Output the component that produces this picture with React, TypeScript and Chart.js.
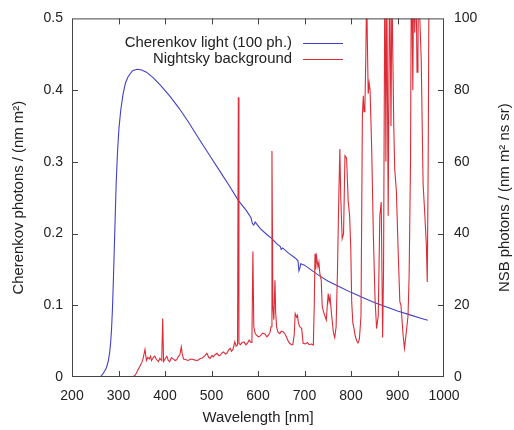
import { useEffect, useRef } from "react";
import { Chart, registerables } from "chart.js";

Chart.register(...registerables);

// ---- data ----
const cherenkovWavelengths = [
  200, 255, 262, 266, 270, 274, 278, 281, 283, 285,
  287, 289, 291, 293, 295, 298, 301, 305, 310, 315, 320,
  330, 340, 350, 360, 375, 390, 410, 430, 450, 475,
  500, 520, 540, 558, 575, 585, 588, 591, 594, 605,
  620, 630, 640, 648, 650, 653, 665, 680, 686, 688,
  690, 692, 700, 715, 730, 750, 775, 800, 825, 850,
  875, 900, 925, 950, 965,
];
const cherenkovPhotons = [
  0, 0, 0.001, 0.004, 0.008, 0.013, 0.022, 0.034, 0.047, 0.066,
  0.095, 0.135, 0.18, 0.225, 0.27, 0.315, 0.347, 0.373, 0.395, 0.41, 0.418,
  0.427, 0.429, 0.428, 0.425, 0.417, 0.407, 0.392, 0.375, 0.356, 0.33,
  0.305, 0.285, 0.265, 0.246, 0.232, 0.222, 0.214, 0.212, 0.216, 0.207,
  0.198, 0.193, 0.186, 0.182, 0.178, 0.18, 0.173, 0.166, 0.162, 0.148,
  0.152, 0.158, 0.156, 0.149, 0.142, 0.134, 0.126, 0.118, 0.111, 0.104,
  0.098, 0.092, 0.087, 0.082, 0.079,
];

const nsbWavelengths = [
  330, 336, 342, 346, 350, 353, 357, 360, 363, 366,
  369, 371, 375, 378, 382, 386, 389, 393, 395, 397,
  400, 404, 407, 410, 414, 418, 422, 425, 429, 432,
  435, 437, 440, 445, 450, 455, 460, 465, 470, 475,
  480, 485, 490, 494, 497, 501, 504, 508, 512, 516,
  519, 523, 526, 530, 533, 537, 540, 543, 546, 550,
  553, 556, 557.7, 559, 562, 566, 570, 574, 578, 581,
  585, 587, 589, 591, 594, 598, 602, 606, 610, 615,
  619, 622, 626, 628, 630, 632, 634, 636.5, 638, 640,
  643, 647, 650, 654, 658, 661, 665, 668, 672, 675,
  678, 680, 683, 685, 687, 690, 694, 697, 702, 706,
  710, 715, 719, 721, 722.6, 724, 726, 729, 731, 733,
  736, 738, 740, 744, 747, 749, 751, 753, 755, 758,
  762, 765, 768, 771, 773, 776, 778, 781, 784, 787,
  790.5, 794, 797, 799.5, 801.5, 804, 806.5, 809, 812, 815,
  818, 821.5, 824.5, 826.5, 828, 830, 832, 833.7, 835, 837,
  839, 841, 844.5, 848, 851.6, 855, 858.6, 862, 865, 868,
  870, 873, 875, 877, 880, 883, 886, 888, 890, 892,
  894, 897.5, 901, 905, 907.5, 912, 915, 919, 922.6, 925,
  928, 930, 933, 935, 937, 940, 942, 944, 946, 948,
  951, 955, 958, 962, 964, 966, 968,
];
const nsbPhotons = [
  0, 0.5, 2, 3, 4, 5.2, 7.7, 4.6, 5.5, 5.0,
  5.8, 4.6, 5.5, 5.8, 4.8, 4.3, 5.2, 4.6, 16.3, 4.3,
  5, 5.8, 4.6, 4.3, 5.4, 5.0, 4.6, 4.8, 5.8, 6.2,
  8.4, 6.5, 5.0, 4.8, 4.6, 5.0, 4.9, 4.7, 4.6, 5.1,
  5.3, 5.8, 6.6, 5.5, 5.2, 6.0, 5.6, 6.3, 6.6, 5.9,
  6.1, 6.8, 7.0, 6.4, 6.6, 7.6, 8.0, 7.2, 7.6, 9.8,
  8.6, 9.0, 78, 9.4, 9.0, 9.6, 9.8, 9.0, 9.6, 10.3,
  9.6, 11, 35, 14, 12.1, 11.5, 11.2, 11.6, 12.2, 12,
  11.2, 11.6, 12.5, 14, 63, 20, 16, 27, 18, 14,
  12.5, 12.1, 12.8, 12.6, 12, 11.2, 10, 9.4, 9.0, 9,
  12, 17.7, 16.7, 17.2, 15, 14, 13.5, 9.4, 9.2, 9.6,
  9.0, 9.2, 8.9, 20, 34.4, 30, 33.5, 30.7, 32, 28.8,
  27, 20, 18.6, 17, 15.9, 20, 23.3, 21, 22.4, 17.7,
  12.5, 11, 14, 30, 45, 63.6, 50, 38.6, 40, 61.7,
  61, 49, 45, 36, 21, 15, 13.5, 11.5, 10.2, 9.5,
  10.5, 17, 73, 78.4, 74, 76, 90, 110, 95, 79,
  82, 80, 63.6, 40, 22, 13.5, 17, 45, 48.8, 11,
  30, 120, 60, 110, 45, 115, 70, 110, 89, 70,
  58, 52, 37, 21, 20, 11.7, 8, 12.6, 17, 28,
  60, 120, 80, 120, 96, 110, 85, 91, 120, 100,
  88.6, 54, 47, 37, 26.5, 60, 120,
];

const xTickLabels = [200, 300, 400, 500, 600, 700, 800, 900, 1000];
const leftTickLabels = [0, 0.1, 0.2, 0.3, 0.4, 0.5];
const rightTickLabels = [0, 20, 40, 60, 80, 100];

const seriesNames = ["Cherenkov light (100 ph.)", "Nightsky background"];
const xTitle = "Wavelength [nm]";
const leftTitle = "Cherenkov photons / (nm m\u00B2)";
const rightTitle = "NSB photons / (nm m\u00B2 ns sr)";

// ---- styles ----
const FONT = "'Liberation Sans', Arial, sans-serif";
const TEXT = "#222";
const AXIS = "#444";
const BLUE = "#4040c8";
const RED = "#dc2c38";

const decorPlugin = {
  id: "decor",
  afterDatasetsDraw(chart: any) {
    const { ctx, chartArea: a, scales } = chart;
    const x = scales.x, yl = scales.y, yr = scales.y2;
    ctx.save();
    ctx.strokeStyle = AXIS;
    ctx.lineWidth = 1;
    ctx.strokeRect(a.left + 0.5, a.top + 0.5, a.right - a.left - 1, a.bottom - a.top - 1);
    const t = 6;
    ctx.beginPath();
    xTickLabels.slice(1, -1).forEach((v) => {
      const p = Math.round(x.getPixelForValue(v)) + 0.5;
      ctx.moveTo(p, a.bottom); ctx.lineTo(p, a.bottom - t);
      ctx.moveTo(p, a.top); ctx.lineTo(p, a.top + t);
    });
    leftTickLabels.slice(1, -1).forEach((v) => {
      const p = Math.round(yl.getPixelForValue(v)) + 0.5;
      ctx.moveTo(a.left, p); ctx.lineTo(a.left + t, p);
    });
    rightTickLabels.slice(1, -1).forEach((v) => {
      const p = Math.round(yr.getPixelForValue(v)) + 0.5;
      ctx.moveTo(a.right, p); ctx.lineTo(a.right - t, p);
    });
    ctx.stroke();
    ctx.restore();
  },
  afterDraw(chart: any) {
    const { ctx, chartArea: a } = chart;
    ctx.save();
    ctx.fillStyle = TEXT;
    ctx.font = `14.9px ${FONT}`;
    ctx.textAlign = "center";
    ctx.textBaseline = "middle";
    ctx.fillText(xTitle, (a.left + a.right) / 2, 418);
    const cy = (a.top + a.bottom) / 2;
    ctx.save();
    ctx.translate(19, cy);
    ctx.rotate(-Math.PI / 2);
    ctx.fillText(leftTitle, 0, 0);
    ctx.restore();
    ctx.save();
    ctx.translate(505, cy);
    ctx.rotate(-Math.PI / 2);
    ctx.fillText(rightTitle, 0, 0);
    ctx.restore();
    // legend
    const rows = [43, 58.5];
    ctx.textAlign = "right";
    chart.data.datasets.forEach((ds: any, i: number) => {
      ctx.fillStyle = TEXT;
      ctx.fillText(ds.label, 292, rows[i]);
      ctx.strokeStyle = ds.borderColor;
      ctx.lineWidth = 1;
      ctx.beginPath();
      ctx.moveTo(303, Math.round(rows[i]) + 0.5);
      ctx.lineTo(343, Math.round(rows[i]) + 0.5);
      ctx.stroke();
    });
    ctx.restore();
  },
};

export default function App() {
  const ref = useRef<HTMLCanvasElement | null>(null);
  useEffect(() => {
    if (!ref.current) return;
    const tickFont = { family: FONT, size: 14 };
    const chart = new Chart(ref.current, {
      type: "line",
      data: {
        datasets: [
          {
            label: seriesNames[0],
            data: cherenkovWavelengths.map((w, i) => ({ x: w, y: cherenkovPhotons[i] })),
            borderColor: BLUE,
            borderWidth: 1.1,
            pointRadius: 0,
            yAxisID: "y",
            order: 1,
          },
          {
            label: seriesNames[1],
            data: nsbWavelengths.map((w, i) => ({ x: w, y: nsbPhotons[i] })),
            borderColor: RED,
            borderWidth: 1.1,
            pointRadius: 0,
            yAxisID: "y2",
            order: 0,
          },
        ],
      },
      options: {
        animation: false,
        responsive: false,
        devicePixelRatio: 1,
        layout: { padding: { top: 17, left: 0, right: 0, bottom: 0 } },
        plugins: { legend: { display: false }, tooltip: { enabled: false } },
        scales: {
          x: {
            type: "linear",
            position: "bottom",
            min: 200,
            max: 1000,
            grid: { display: false, drawTicks: false },
            border: { display: false },
            afterBuildTicks: (s: any) => { s.ticks = xTickLabels.map((v) => ({ value: v })); },
            afterFit: (s: any) => { s.height = 53; },
            ticks: { font: tickFont, color: TEXT, padding: 11, maxRotation: 0, autoSkip: false,
              callback: (v: any) => String(v) },
          },
          y: {
            type: "linear",
            position: "left",
            min: 0,
            max: 0.5,
            grid: { display: false, drawTicks: false },
            border: { display: false },
            afterBuildTicks: (s: any) => { s.ticks = leftTickLabels.map((v) => ({ value: v })); },
            afterFit: (s: any) => { s.width = 72; },
            ticks: { font: tickFont, color: TEXT, padding: 9, autoSkip: false,
              callback: (v: any) => String(v) },
          },
          y2: {
            type: "linear",
            position: "right",
            min: 0,
            max: 100,
            grid: { display: false, drawTicks: false },
            border: { display: false },
            afterBuildTicks: (s: any) => { s.ticks = rightTickLabels.map((v) => ({ value: v })); },
            afterFit: (s: any) => { s.width = 70; },
            ticks: { font: tickFont, color: TEXT, padding: 10, autoSkip: false,
              callback: (v: any) => String(v) },
          },
        },
      },
      plugins: [decorPlugin],
    } as any);
    return () => chart.destroy();
  }, []);
  return (
    <div style={{ position: "absolute", left: 0, top: 0, width: 514, height: 430, background: "#fff" }}>
      <canvas ref={ref} width={514} height={430} style={{ width: 514, height: 430, display: "block" }} />
    </div>
  );
}
